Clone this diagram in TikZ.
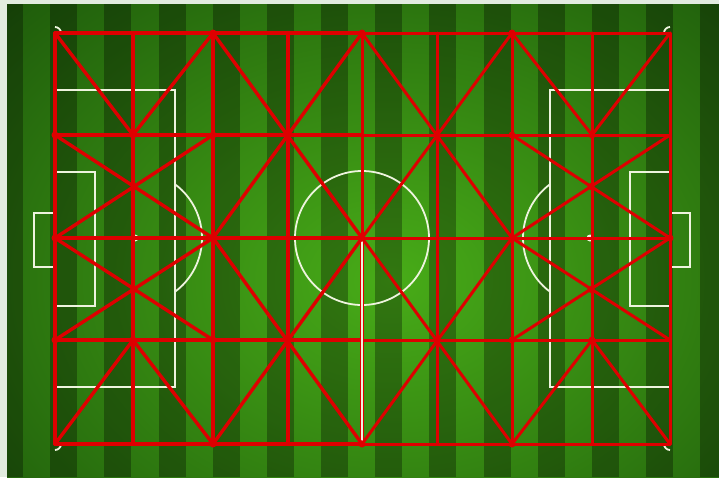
\documentclass[tikz,border=0pt]{standalone}
\usetikzlibrary{calc}
\definecolor{pitchlight}{RGB}{72,172,24}
\definecolor{pitchdark}{RGB}{8,48,4}
\definecolor{meshred}{RGB}{222,0,0}
\definecolor{chalk}{RGB}{238,244,222}
\definecolor{paper}{RGB}{226,236,224}
\begin{document}
\begin{tikzpicture}[x=1pt,y=-1pt,
  chalkline/.style={draw=chalk,line width=1.8pt},
  meshL/.style={draw=meshred,line width=3.4pt,line cap=round},
  meshR/.style={draw=meshred,line width=3pt,line cap=round},
  dot/.style={circle,fill=meshred,inner sep=0pt,minimum size=7pt},
  spot/.style={circle,fill=chalk,inner sep=0pt,minimum size=7pt}]
\useasboundingbox (0,0) rectangle (719,477);
\fill[paper] (0,0) rectangle (719,477);
% turf
\begin{scope}
  \clip (7,4) rectangle (719,477);
  \shade[inner color=pitchlight, outer color=pitchdark] (-430,-340) rectangle (1210,900);
  \foreach \k in {0,...,13}
    \fill[black,opacity=0.3] ({-4+54.17*\k},4) rectangle ++(27,473);
\end{scope}
% chalk markings
\draw[chalkline] (55,33) rectangle (670,444);
\draw[chalkline] (362,33) -- (362,444);
\draw[chalkline] (362,238) circle[radius=67];
\draw[chalkline] (55,90) rectangle (175,387);
\draw[chalkline] (550,90) rectangle (670,387);
\draw[chalkline] (55,172) rectangle (95,306);
\draw[chalkline] (630,172) rectangle (670,306);
\draw[chalkline] (55,213) -- (34,213) -- (34,267) -- (55,267);
\draw[chalkline] (670,213) -- (690,213) -- (690,267) -- (670,267);
\draw[chalkline] ($(135,238)+(-53.4:67)$) arc[start angle=-53.4,end angle=53.4,radius=67];
\draw[chalkline] ($(590,238)+(126.6:67)$) arc[start angle=126.6,end angle=233.4,radius=67];
\draw[chalkline] (61,33) arc[start angle=0,end angle=-90,radius=6];
\draw[chalkline] (664,33) arc[start angle=180,end angle=270,radius=6];
\draw[chalkline] (61,444) arc[start angle=0,end angle=90,radius=6];
\draw[chalkline] (664,444) arc[start angle=180,end angle=90,radius=6];
\node[spot] (spotL) at (135,238) {};
\node[spot] (spotR) at (590,238) {};
% grid coordinates
\foreach \x [count=\i from 0] in {55,133,213,288,362,437,512,592,670}
  \foreach \y [count=\j from 0] in {33,135,238,340,444}
    \coordinate (p\i\j) at (\x,\y);
% horizontals and verticals
\foreach \j in {0,...,4} {
  \draw[meshL] (p0\j) -- (p4\j);
  \draw[meshR] (p4\j) -- (p8\j);
}
\foreach \i in {0,1,2,3} \draw[meshL] (p\i0) -- (p\i4);
\foreach \i in {5,6,7,8} \draw[meshR] (p\i0) -- (p\i4);
\draw[meshL,line width=3pt] (p40) -- (p42);
\draw[meshR,line width=3.4pt] (p42) -- (p44);
\draw[draw=chalk,line width=1.3pt] (p42) -- (p44);
% left block
\draw[meshL] (p00) -- (p11) -- (p20);
\draw[meshL] (p01) -- (p22);
\draw[meshL] (p02) -- (p21);
\draw[meshL] (p02) -- (p23);
\draw[meshL] (p03) -- (p22);
\draw[meshL] (p04) -- (p13) -- (p24);
% middle crosses
\draw[meshL] (p20) -- (p42);
\draw[meshL] (p40) -- (p22);
\draw[meshL] (p22) -- (p44);
\draw[meshL] (p42) -- (p24);
\draw[meshR] (p40) -- (p62);
\draw[meshR] (p60) -- (p42);
\draw[meshR] (p42) -- (p64);
\draw[meshR] (p62) -- (p44);
% right block
\draw[meshR] (p60) -- (p71) -- (p80);
\draw[meshR] (p61) -- (p82);
\draw[meshR] (p62) -- (p81);
\draw[meshR] (p62) -- (p83);
\draw[meshR] (p63) -- (p82);
\draw[meshR] (p64) -- (p73) -- (p84);
% junction dots
\foreach \n in {p11,p13,p20,p21,p22,p23,p24,p31,p33,p40,p42,p44,p51,p53,p60,p61,p62,p63,p64,p71,p73,p02,p82,p01,p03}
  \node[dot] (d\n) at (\n) {};
\node[dot] (dmL1) at (134,186.5) {};
\node[dot] (dmL2) at (134,289.5) {};
\node[dot] (dmR1) at (591,186.5) {};
\node[dot] (dmR2) at (591,289.5) {};
\end{tikzpicture}
\end{document}
